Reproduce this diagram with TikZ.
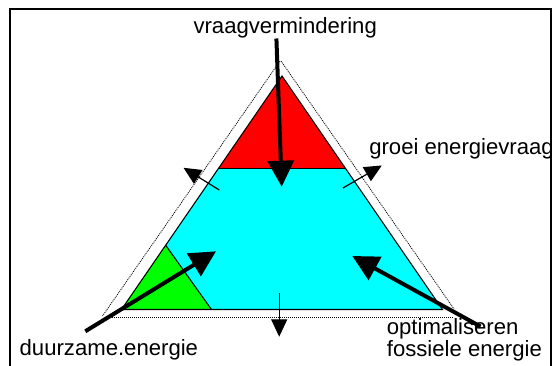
\documentclass[tikz,border=0pt]{standalone}
\usepackage{fontspec}
\setmainfont{Liberation Sans}
\usetikzlibrary{arrows.meta, positioning}
\definecolor{aqua}{RGB}{0,255,255}
\definecolor{pure red}{RGB}{255,0,0}
\definecolor{lime}{RGB}{0,255,0}

\begin{document}
\begin{tikzpicture}[
    x=0.75pt, y=-0.75pt,
    lbl/.style={font=\fontsize{16.6}{22}\selectfont, inner sep=0pt},
    bigarrow/.style={line width=3pt, -{Triangle[length=19.5pt, width=19.5pt]}},
    smallarrow/.style={line width=0.9pt, -{Triangle[length=13pt, width=12pt]}},
    edge/.style={draw, line width=0.8pt},
    outline/.style={line width=0.6pt, dash pattern=on 0.75pt off 0.75pt},
]
\useasboundingbox (0,0) rectangle (552,366);

% Frame
\draw[line width=1.5pt] (10,367) -- (10,9) -- (551,9) -- (551,367);

% Corners of the triangle
\coordinate (A) at (282,76);
\coordinate (B) at (121.5,309.5);
\coordinate (C) at (442.5,309.5);
\coordinate (RL) at (218.5,168.5);
\coordinate (RR) at (345.5,168.5);
\coordinate (GT) at (165.5,245);
\coordinate (GB) at (211.5,309.5);

% Areas
\fill[aqua] (RL) -- (RR) -- (C) -- (B) -- cycle;
\fill[pure red] (A) -- (RR) -- (RL) -- cycle;
\fill[lime] (B) -- (GT) -- (GB) -- cycle;
\draw[edge] (A) -- (C) -- (B) -- cycle;
\draw[edge] (RL) -- (RR);
\draw[edge] (GT) -- (GB);

% Outer dotted triangle
\draw[outline] (280,61) -- (102.5,316);
\draw[outline] (106,317.5) -- (453,317.5);
\draw[outline] (281,61) -- (454,309);

% Labels
\node[lbl, anchor=base] (vraag) at (285.2,33.3) {vraagvermindering};
\node[lbl, anchor=base west] (groei) at (369,155) {groei energievraag};
\node[lbl, anchor=base west] (duur) at (19.4,355) {duurzame.energie};
\node[lbl, anchor=base west] (optim) at (386.6,334.5) {optimaliseren};
\node[lbl, anchor=base west] (foss) at (386.6,356.5) {fossiele energie};

% Arrow ends
\coordinate (Vs) at (276.4,38.5);
\coordinate (Vt) at (281.7,186.7);
\coordinate (Ds) at (85.3,331.3);
\coordinate (Dt) at (216,251.3);
\coordinate (Os) at (480.5,326.5);
\coordinate (Ot) at (352.3,256);
\coordinate (Ls) at (219.3,190);
\coordinate (Lt) at (183.5,167.8);
\coordinate (Rs) at (343,188);
\coordinate (Rt) at (381.8,165.5);
\coordinate (Bs) at (279.2,293.3);
\coordinate (Bt) at (279.2,336.7);

% Thick arrows
\draw[bigarrow] (Vs) -- (Vt);
\draw[bigarrow] (Ds) -- (Dt);
\draw[bigarrow] (Os) -- (Ot);

% Thin arrows
\draw[smallarrow] (Ls) -- (Lt);
\draw[smallarrow] (Rs) -- (Rt);
\draw[smallarrow] (Bs) -- (Bt);

\end{tikzpicture}
\end{document}
